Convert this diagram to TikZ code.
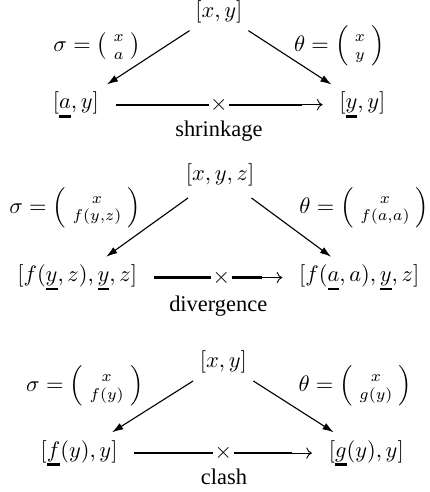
\documentclass[tikz,border=0pt]{standalone}
\usepackage{amsmath}
\usepackage{fontspec}
\setmainfont{Liberation Serif}
\usepackage{tikz}
\usetikzlibrary{arrows.meta,positioning}

% thick bar under a variable
\newcommand{\ubar}[1]{\setbox0=\hbox{$#1$}\rlap{\rule[-4pt]{\wd0}{1.2pt}}\box0}
\newcommand{\subst}[2]{\left(\,\genfrac{}{}{0pt}{1}{#1}{#2}\,\right)}

\tikzset{
  mapto/.style={-{Latex[length=5pt,width=3.2pt]},line width=0.5pt},
  crossin/.style={line width=1pt,shorten <=4pt},
  crossout/.style={line width=1pt,shorten >=13pt},
  crossarrow/.style={-{To[length=2.5pt,width=5pt]},line width=0.4pt,shorten >=4pt},
  crossmark/.style={inner sep=0.5pt},
  caption/.style={font=\normalsize}
}

\begin{document}
\begin{tikzpicture}
  \useasboundingbox (0,0) rectangle (6.73,-7.71);

  % Shrinkage
  \node (top1) at (3.43,-0.18) {$[x,y]$};
  \node (sig1) at (1.52,-0.72) {$\sigma=\subst{x}{a}$};
  \node (the1) at (5.32,-0.72) {$\theta=\subst{x}{y}$};
  \node (left1) at (1.19,-1.64) {$[\ubar{a},y]$};
  \node (right1) at (5.68,-1.64) {$[\ubar{y},y]$};
  \node[crossmark] (cross1) at (3.43,-1.64) {$\times$};
  \node[caption] (cap1) at (3.43,-2.06) {shrinkage};
  \draw[mapto] (top1) -- (left1);
  \draw[mapto] (top1) -- (right1);
  \draw[crossin] (left1) -- (cross1);
  \draw[crossarrow] (cross1) -- (right1);
  \draw[crossout] (cross1) -- (right1);

  % Divergence
  \node (top2) at (3.45,-2.74) {$[x,y,z]$};
  \node (sig2) at (1.18,-3.25) {$\sigma=\subst{x}{f(y,z)}$};
  \node (the2) at (5.71,-3.25) {$\theta=\subst{x}{f(a,a)}$};
  \node (left2) at (1.21,-4.35) {$[f(\ubar{y},z),\ubar{y},z]$};
  \node (right2) at (5.63,-4.35) {$[f(\ubar{a},a),\ubar{y},z]$};
  \node[crossmark] (cross2) at (3.47,-4.35) {$\times$};
  \node[caption] (cap2) at (3.42,-4.80) {divergence};
  \draw[mapto,shorten <=3pt] (top2) -- (left2);
  \draw[mapto,shorten <=3pt] (top2) -- (right2);
  \draw[crossin] (left2) -- (cross2);
  \draw[crossarrow] (cross2) -- (right2);
  \draw[crossout] (cross2) -- (right2);

  % Clash
  \node (top3) at (3.50,-5.67) {$[x,y]$};
  \node (sig3) at (1.33,-6.05) {$\sigma=\subst{x}{f(y)}$};
  \node (the3) at (5.57,-6.05) {$\theta=\subst{x}{g(y)}$};
  \node (left3) at (1.24,-7.10) {$[\ubar{f}(y),y]$};
  \node (right3) at (5.74,-7.10) {$[\ubar{g}(y),y]$};
  \node[crossmark] (cross3) at (3.50,-7.10) {$\times$};
  \node[caption] (cap3) at (3.51,-7.47) {clash};
  \draw[mapto] (top3) -- (left3);
  \draw[mapto] (top3) -- (right3);
  \draw[crossin] (left3) -- (cross3);
  \draw[crossarrow] (cross3) -- (right3);
  \draw[crossout] (cross3) -- (right3);
\end{tikzpicture}
\end{document}
